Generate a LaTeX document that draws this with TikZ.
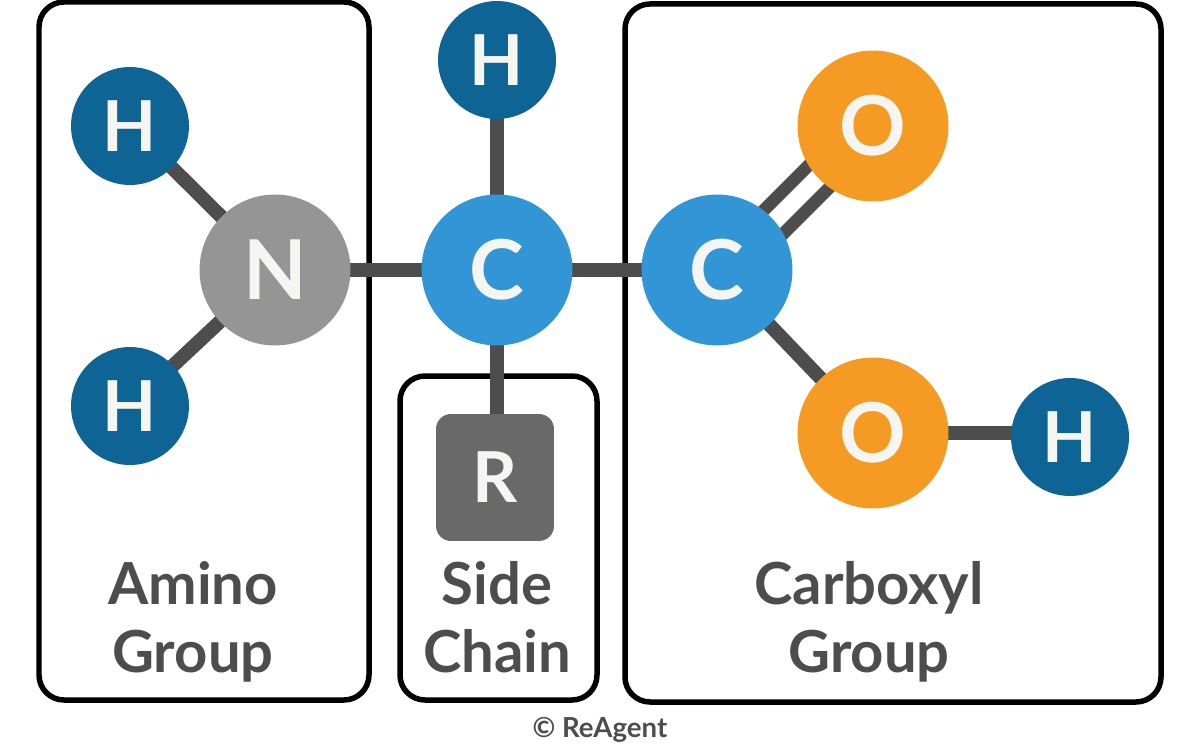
\documentclass[tikz,border=0pt]{standalone}
\usepackage{fontspec}
\setmainfont{Lato}
\usetikzlibrary{backgrounds}
\definecolor{hblue}{HTML}{0F6496}
\definecolor{cblue}{HTML}{3295D5}
\definecolor{ngrey}{HTML}{959595}
\definecolor{oorange}{HTML}{F59A23}
\definecolor{rgrey}{HTML}{696969}
\definecolor{bondgrey}{HTML}{4D4D4D}
\definecolor{lettercol}{HTML}{F5F5F2}
\tikzset{
  atom/.style={circle,inner sep=0pt,outer sep=0pt,text=lettercol},
  small/.style={atom,minimum size=2.36cm,fill=hblue,font=\fontsize{40}{40}\selectfont\bfseries},
  big/.style={atom,minimum size=3.02cm,font=\fontsize{47}{47}\selectfont\bfseries},
  bond/.style={draw=bondgrey,line width=0.28cm},
  dbond/.style={draw=bondgrey,line width=0.25cm},
  groupbox/.style={draw=black,line width=0.11cm,rounded corners=0.5cm},
  grouplabel/.style={text=bondgrey,align=center,font=\fontsize{33}{39}\selectfont\bfseries}
}
\begin{document}
\begin{tikzpicture}[x=0.02cm,y=-0.02cm]
\useasboundingbox (0,0) rectangle (1200,750);
% atoms
\node[small] (h1) at (130,126) {H};
\node[small] (h2) at (130,406) {H};
\node[big,fill=ngrey] (n) at (275,270) {N};
\node[big,fill=cblue] (c1) at (497,270) {C};
\node[small] (h3) at (497,60) {H};
\node[big,fill=cblue] (c2) at (717,270) {C};
\node[big,fill=oorange] (o1) at (873,126) {O};
\node[big,fill=oorange] (o2) at (873,433) {O};
\node[small] (h4) at (1070,437) {H};
\node[atom,fill=rgrey,minimum width=2.36cm,minimum height=2.54cm,rounded corners=0.3cm,rectangle,font=\fontsize{40}{40}\selectfont\bfseries] (r) at (495,477.5) {R};
% labels
\node[grouplabel] (amino) at (193,625) {Amino\strut\\Group\strut};
\node[grouplabel] (side) at (497,625) {Side\strut\\Chain\strut};
\node[grouplabel] (carboxyl) at (869,625) {Carboxyl\strut\\Group\strut};
\node[text=bondgrey,font=\fontsize{15.7}{16}\selectfont\bfseries] (credit) at (600,730) {© ReAgent};
% ends of the double bond
\coordinate (db1a) at (755,219);
\coordinate (db1b) at (815,159);
\coordinate (db2a) at (775,242);
\coordinate (db2b) at (835,182);
% boxes and bonds go behind the atoms
\begin{scope}[on background layer]
\draw[groupbox] (39,2) rectangle (369,700);
\draw[groupbox] (400,376) rectangle (597,700);
\draw[groupbox] (625,4) rectangle (1161,702);
\draw[bond] (h1.center) -- (n.center);
\draw[bond] (h2.center) -- (n.center);
\draw[bond] (n.center) -- (c1.center);
\draw[bond] (h3.center) -- (c1.center);
\draw[bond] (c1.center) -- (c2.center);
\draw[bond] (c1.center) -- (c1 |- r.center);
\draw[bond] (c2.center) -- (o2.center);
\draw[bond] (o2.center) -- (o2 -| h4);
\draw[dbond] (db1a) -- (db1b);
\draw[dbond] (db2a) -- (db2b);
\end{scope}
\end{tikzpicture}
\end{document}
